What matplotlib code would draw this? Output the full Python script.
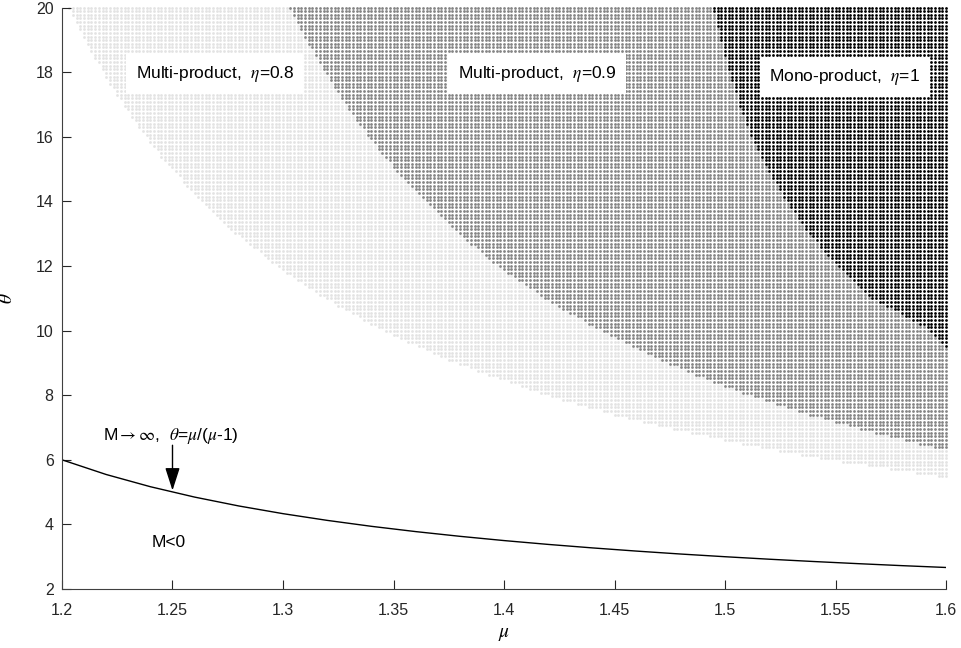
#!/usr/bin/env python3
"""Feasibility regions in the (mu, theta) plane for multi/mono-product cases."""

import matplotlib
matplotlib.use("Agg")
import matplotlib.pyplot as plt
import numpy as np

plt.rcParams["font.family"] = ["Liberation Sans", "DejaVu Sans"]
plt.rcParams["mathtext.fontset"] = "stix"

# curve M -> inf : theta = mu/(mu-1), values read at mu steps of 0.02
curve_mu = [1.20, 1.22, 1.24, 1.26, 1.28, 1.30, 1.32, 1.34, 1.36, 1.38, 1.40,
            1.42, 1.44, 1.46, 1.48, 1.50, 1.52, 1.54, 1.56, 1.58, 1.60]
curve_theta = [6.000, 5.545, 5.167, 4.846, 4.571, 4.333, 4.125, 3.941, 3.778, 3.632, 3.500,
               3.381, 3.273, 3.174, 3.083, 3.000, 2.923, 2.852, 2.786, 2.724, 2.667]

# lower boundaries of the dotted regions (theta above this is feasible)
eta08_mu = [1.2000, 1.2029, 1.2102, 1.2183, 1.2275, 1.2378, 1.2495, 1.2630, 1.2786, 1.2969,
            1.3188, 1.3452, 1.3778, 1.4191, 1.4442, 1.4732, 1.5069, 1.5468, 1.5947, 1.6000]
eta08_theta = [20.5, 20.0, 19.0, 18.0, 17.0, 16.0, 15.0, 14.0, 13.0, 12.0,
               11.0, 10.0, 9.0, 8.0, 7.5, 7.0, 6.5, 6.0, 5.5, 5.45]

eta09_mu = [1.3000, 1.3030, 1.3105, 1.3189, 1.3282, 1.3387, 1.3505, 1.3639, 1.3793, 1.3972,
            1.4182, 1.4432, 1.4735, 1.4912, 1.5109, 1.5332, 1.5584, 1.5872, 1.6000]
eta09_theta = [20.5, 20.0, 19.0, 18.0, 17.0, 16.0, 15.0, 14.0, 13.0, 12.0,
               11.0, 10.0, 9.0, 8.5, 8.0, 7.5, 7.0, 6.5, 6.3]

eta1_mu = [1.4935, 1.4946, 1.4980, 1.5019, 1.5064, 1.5118, 1.5190, 1.5280, 1.5380,
           1.5505, 1.5655, 1.5800, 1.5930, 1.6000]
eta1_theta = [20.5, 20.0, 19.0, 18.0, 17.0, 16.0, 15.0, 14.0, 13.0,
              12.0, 11.0, 10.5, 10.0, 9.5]

# sampling grid of the original computation
mu_grid = np.linspace(1.2, 1.6, 241)
theta_grid = np.linspace(2.0, 20.0, 161)

MU, TH = np.meshgrid(mu_grid, theta_grid)
MU, TH = MU.ravel(), TH.ravel()


def inside(b_mu, b_th):
    lower = np.interp(MU, b_mu, b_th, left=np.inf)
    return TH >= lower


in08 = inside(eta08_mu, eta08_theta)
in09 = inside(eta09_mu, eta09_theta)
in1 = inside(eta1_mu, eta1_theta)

fig = plt.figure(figsize=(9.61, 6.48), dpi=100)
ax = fig.add_axes([0.0645, 0.091, 0.92, 0.8974])

dot = dict(s=4.0, marker="o", linewidths=0, clip_on=False)
m = in08 & ~in09 & ~in1
ax.scatter(MU[m], TH[m], color="#e3e3e3", **dot)
m = in09 & ~in1
ax.scatter(MU[m], TH[m], color="#858585", **dot)
ax.scatter(MU[in1], TH[in1], color="black", **dot)

ax.plot(curve_mu, curve_theta, color="black", lw=1.0)

box = dict(facecolor="white", edgecolor="none", pad=7)
ax.text(1.2335, 17.95, r"Multi-product,  $\eta$=0.8", fontsize=12.5, va="center", bbox=box)
ax.text(1.379, 17.95, r"Multi-product,  $\eta$=0.9", fontsize=12.5, va="center", bbox=box)
ax.text(1.520, 17.85, r"Mono-product,  $\eta$=1", fontsize=12.5, va="center", bbox=box)

ax.text(1.2186, 6.75, r"M$\rightarrow\infty$,  $\theta$=$\mu$/($\mu$-1)", fontsize=12.5, va="center")
ax.annotate("", xy=(1.25, 5.05), xytext=(1.25, 6.45),
            arrowprops=dict(arrowstyle="-|>,head_length=1.4,head_width=0.45",
                            color="black", lw=1.0, shrinkA=0, shrinkB=0))
ax.text(1.2407, 3.45, "M<0", fontsize=12.5, va="center")

ax.set_xlim(1.2, 1.6)
ax.set_ylim(2, 20)
ax.set_xticks([1.2, 1.25, 1.3, 1.35, 1.4, 1.45, 1.5, 1.55, 1.6])
ax.set_xticklabels(["1.2", "1.25", "1.3", "1.35", "1.4", "1.45", "1.5", "1.55", "1.6"])
ax.set_yticks(range(2, 21, 2))
ax.tick_params(direction="in", length=6.3, width=0.8, color="#262626",
               labelsize=11.5, labelcolor="#262626")
ax.tick_params(axis="x", pad=10)
ax.tick_params(axis="y", pad=6)
for side in ("top", "right"):
    ax.spines[side].set_visible(False)
for side in ("left", "bottom"):
    ax.spines[side].set_color("#404040")
    ax.spines[side].set_linewidth(0.8)

ax.set_xlabel(r"$\mu$", fontsize=14, labelpad=6)
ax.set_ylabel(r"$\theta$", fontsize=14, labelpad=14)

fig.savefig("out.png", dpi=100)
